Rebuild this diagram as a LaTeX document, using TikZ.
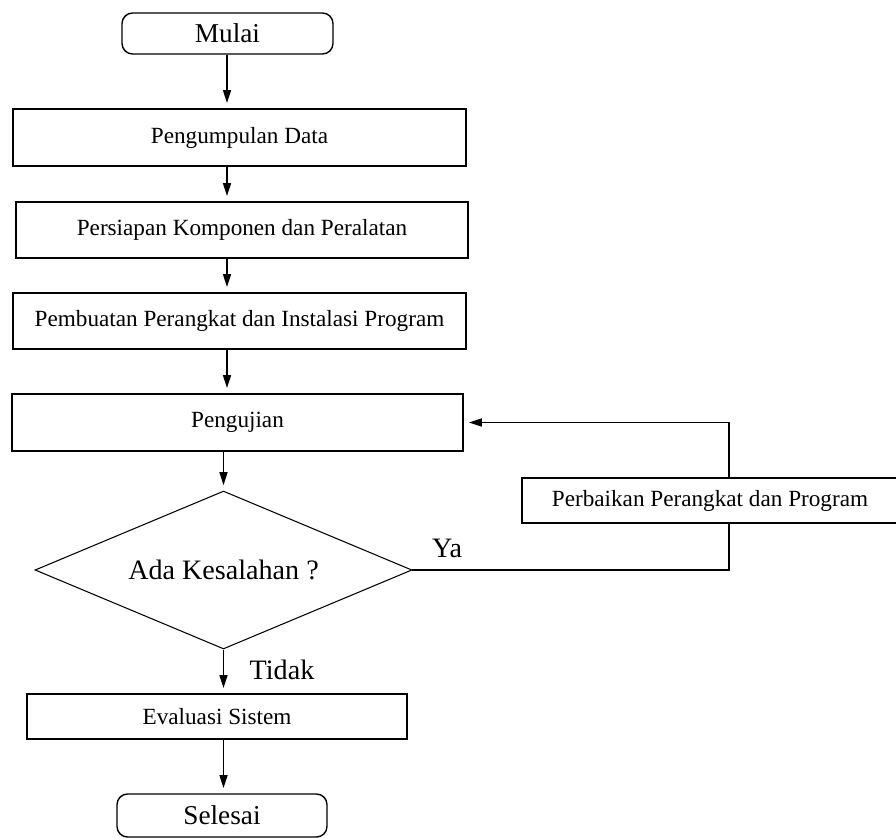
\documentclass[tikz,border=0pt]{standalone}
\usepackage{fontspec}
\setmainfont{Liberation Serif}
\usetikzlibrary{arrows.meta, shapes.geometric, positioning}

\tikzset{
  proc/.style={draw, line width=0.8pt, rectangle, inner sep=0pt, font=\fontsize{13.2}{15}\selectfont},
  term/.style={draw, line width=0.8pt, rectangle, rounded corners=6pt, inner sep=0pt, font=\fontsize{15.5}{18}\selectfont},
  decision/.style={draw, line width=0.6pt, diamond, aspect=2.39, inner sep=0pt, font=\fontsize{16}{19}\selectfont},
  lbl/.style={font=\fontsize{16}{19}\selectfont},
  arr/.style={line width=0.9pt, -{Triangle[length=0.26cm, width=0.16cm]}, shorten >=3pt},
  link/.style={line width=0.7pt}
}

\begin{document}
\begin{tikzpicture}[x=0.02cm, y=-0.02cm]
            \useasboundingbox (0,0) rectangle (896,838);
            \clip (0,0) rectangle (896,838);
            \coordinate (axis) at (227,0);
            \coordinate (ret) at (729,0);
            \node[term, minimum width=4.22cm, minimum height=0.82cm] (mulai) at (227.5,33.5) {Mulai};
            \node[proc, minimum width=9.06cm, minimum height=1.14cm] (data) at (239.5,137.5) {Pengumpulan Data};
            \node[proc, minimum width=9.04cm, minimum height=1.12cm] (prep) at (242,230) {Persiapan Komponen dan Peralatan};
            \node[proc, minimum width=9.06cm, minimum height=1.12cm] (build) at (239.5,321) {Pembuatan Perangkat dan Instalasi Program};
            \node[proc, minimum width=9.02cm, minimum height=1.14cm] (test) at (237.5,422.5) {Pengujian};
            \node[decision, minimum width=7.54cm, minimum height=3.16cm] (cek) at (223.5,570) {Ada Kesalahan ?};
            \node[proc, minimum width=7.52cm, minimum height=0.9cm] (fix) at (710,500.5) {Perbaikan Perangkat dan Program};
            \node[proc, minimum width=7.6cm, minimum height=0.9cm] (eval) at (217,716.5) {Evaluasi Sistem};
            \node[term, minimum width=4.2cm, minimum height=0.86cm] (selesai) at (222,815.5) {Selesai};
            \node[lbl] (ya) at (447,548) {Ya};
            \node[lbl] (tidak) at (282,670) {Tidak};

            \draw[arr] (mulai.south -| axis) -- (data.north -| axis);
            \draw[arr] (data.south -| axis) -- (prep.north -| axis);
            \draw[arr] (prep.south -| axis) -- (build.north -| axis);
            \draw[arr] (build.south -| axis) -- (test.north -| axis);
            \draw[arr] (test.south -| cek.north) -- (cek.north);
            \draw[arr] (cek.south) -- (cek.south |- eval.north);
            \draw[arr] (eval.south -| cek.south) -- (cek.south |- selesai.north);
            \draw[link] (cek.east) -- (cek.east -| ret) -- (fix.south -| ret);
            \draw[arr] (fix.north -| ret) -- (ret |- test.east) -- (test.east);
        \end{tikzpicture}
\end{document}
